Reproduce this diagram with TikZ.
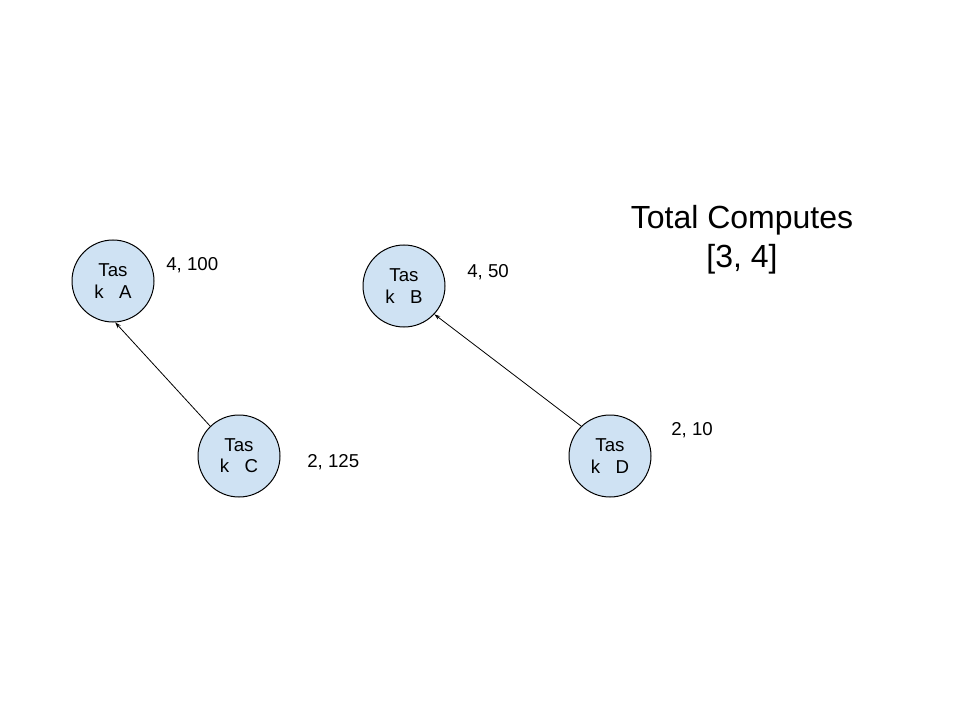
\documentclass[tikz,border=0pt]{standalone}
\usepackage{fontspec}
\setmainfont{Liberation Sans}
\usetikzlibrary{arrows.meta}
\definecolor{taskfill}{HTML}{CFE2F3}
\begin{document}
\begin{tikzpicture}[x=0.75pt,y=-0.75pt,
  task/.style={circle,draw=black,line width=0.75pt,fill=taskfill,minimum size=61.5pt,inner sep=0pt,align=center,font=\fontsize{14}{16}\selectfont},
  lbl/.style={anchor=base west,inner sep=0pt,font=\fontsize{14}{16}\selectfont},
  dep/.style={draw=black,line width=0.6pt,-{Stealth[length=4.5pt,width=3pt]}}]
\useasboundingbox (0,0) rectangle (960,720);
\fill[white] (0,0) rectangle (960,720);
\node[task] (A) at (113,281) {Tas\\k\ \ \ A};
\node[task] (C) at (239,456) {Tas\\k\ \ \ C};
\node[task] (B) at (404,286) {Tas\\k\ \ \ B};
\node[task] (D) at (610,456) {Tas\\k\ \ \ D};
\node[lbl] (lA) at (166,271) {4, 100};
\node[lbl] (lC) at (307,467) {2, 125};
\node[lbl] (lB) at (467,278) {4, 50};
\node[lbl] (lD) at (671,435) {2, 10};
\node[align=center,inner sep=0pt,font=\fontsize{24}{29}\selectfont] (tot) at (742,240) {Total Computes\\{}[3, 4]};
\draw[dep] (C.134) -- (A.273);
\draw[dep] (D.134) -- (B.-43);
\end{tikzpicture}
\end{document}
